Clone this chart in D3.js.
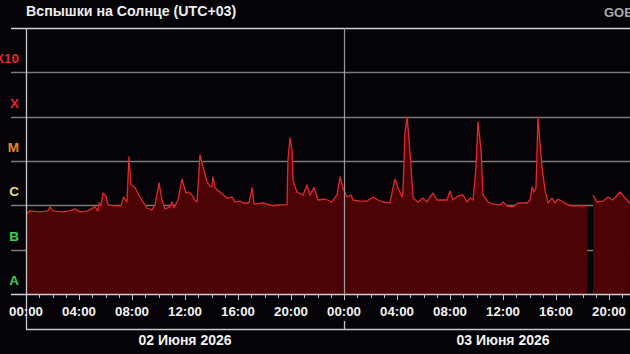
<!DOCTYPE html>
<html>
<head>
<meta charset="utf-8">
<script src="https://cdn.jsdelivr.net/npm/d3@7"></script>
<style>
  html, body { margin: 0; padding: 0; background: #050307; overflow: hidden; }
  svg { display: block; }
  text { font-family: "Liberation Sans", Arial, sans-serif; font-weight: bold; }
</style>
</head>
<body>
<div id="chart"></div>
<script>
var width = 630, height = 354;

// hours since 02 June 00:00 (UTC+03) and GOES X-ray flux, W/m^2 (null = no data)
var hours = [0, 0.30, 1.06, 1.66, 1.81, 2.04, 2.72, 3.32, 3.70, 4.08, 4.68, 5.21, 5.43, 5.51, 5.66, 5.81, 6.04, 6.19, 6.72, 7.17,
  7.36, 7.62, 7.77, 7.92, 8.23, 8.60, 9.13, 9.51, 9.74, 10.04, 10.26, 10.49, 10.87, 11.02, 11.17, 11.47, 11.77, 12.08, 12.23, 12.53,
  12.75, 12.91, 13.13, 13.36, 13.66, 13.89, 14.04, 14.11, 14.26, 14.64, 15.17, 15.55, 15.77, 16.15, 16.38, 16.83, 17.06, 17.21, 17.89, 18.64,
  19.17, 19.70, 19.77, 19.92, 20.08, 20.15, 20.45, 20.91, 21.21, 21.43, 21.74, 22.04, 22.57, 23.09, 23.47, 23.70, 23.92, 24.23, 24.53, 24.68,
  25.21, 25.74, 26.19, 26.57, 26.94, 27.47, 27.70, 27.85, 28.08, 28.38, 28.45, 28.60, 28.75, 28.83, 29.06, 29.21, 29.58, 29.96, 30.26, 30.72,
  31.02, 31.47, 31.77, 32.00, 32.23, 32.60, 32.98, 33.28, 33.51, 33.74, 33.96, 34.11, 34.34, 34.49, 34.87, 35.25, 35.77, 36.00, 36.30, 36.75,
  37.13, 37.81, 38.04, 38.19, 38.34, 38.49, 38.64, 38.79, 38.94, 39.17, 39.40, 39.70, 39.92, 40.15, 40.53, 41.06, 41.58, 42.34, 42.50, 42.79,
  43.09, 43.55, 43.92, 44.30, 44.83, 45.21, 45.58];
var flux = [6.4e-7, 7.5e-7, 7.1e-7, 7.5e-7, 9.2e-7, 7.5e-7, 7.1e-7, 7.5e-7, 8.3e-7, 7.1e-7, 7.5e-7, 9.2e-7, 7.5e-7, 1.13e-6, 9.7e-7, 1.9e-6, 1.62e-6, 1.02e-6, 9.7e-7, 9.7e-7,
  1.54e-6, 1.19e-6, 1.23e-5, 2.9e-6, 2.5e-6, 1.54e-6, 8.7e-7, 7.9e-7, 1.02e-6, 3.2e-6, 1.32e-6, 8.3e-7, 9.2e-7, 1.19e-6, 8.7e-7, 1.32e-6, 3.9e-6, 1.9e-6, 2.0e-6, 1.71e-6,
  1.32e-6, 1.19e-6, 1.37e-5, 7.3e-6, 3.4e-6, 2.7e-6, 2.6e-6, 4.4e-6, 2.5e-6, 2.0e-6, 1.46e-6, 1.54e-6, 1.19e-6, 1.25e-6, 1.13e-6, 1.13e-6, 2.5e-6, 1.07e-6, 1.13e-6, 9.7e-7,
  1.02e-6, 1.02e-6, 1.05e-5, 3.3e-5, 1.77e-5, 3.7e-6, 2.0e-6, 1.71e-6, 2.9e-6, 1.71e-6, 2.5e-6, 1.32e-6, 1.39e-6, 1.19e-6, 1.71e-6, 4.4e-6, 2.5e-6, 1.54e-6, 1.71e-6, 1.32e-6,
  1.25e-6, 1.25e-6, 1.54e-6, 1.32e-6, 1.19e-6, 1.13e-6, 2.5e-6, 3.9e-6, 2.5e-6, 1.54e-6, 2.0e-6, 4.3e-5, 9.8e-5, 5.9e-5, 7.3e-6, 1.46e-6, 1.19e-6, 1.46e-6, 1.19e-6, 1.9e-6,
  1.32e-6, 1.32e-6, 1.32e-6, 2.1e-6, 1.32e-6, 1.62e-6, 1.71e-6, 1.19e-6, 1.46e-6, 1.32e-6, 7.3e-6, 7.6e-5, 1.77e-5, 1.71e-6, 1.19e-6, 1.07e-6, 1.02e-6, 1.19e-6, 9.7e-7, 9.2e-7,
  1.13e-6, 1.13e-6, 1.32e-6, 2.6e-6, 2.0e-6, 2.5e-6, 9.8e-5, 2.55e-5, 7.3e-6, 2.2e-6, 1.13e-6, 1.46e-6, 1.13e-6, 1.39e-6, 1.19e-6, 9.7e-7, 9.7e-7, 9.7e-7, null, 1.71e-6,
  1.19e-6, 1.25e-6, 1.54e-6, 1.32e-6, 2.0e-6, 1.46e-6, 1.13e-6];

var classNames = ["A", "B", "C", "M", "X", "X10"];
var classLower = [1e-8, 1e-7, 1e-6, 1e-5, 1e-4, 1e-3];
var classColors = ["#3fd24a", "#3fd24a", "#e6e36a", "#e48a2c", "#e3262b", "#e3262b"];

var days = ["02 Июня 2026", "03 Июня 2026"];
var startTime = new Date(2026, 5, 2, 0, 0);
var endTime = new Date(2026, 5, 3, 21, 35);

var plot = {left: 26, right: 630, top: 28, bottom: 294};

var x = d3.scaleTime().domain([startTime, endTime]).range([plot.left, plot.right]);
var y = d3.scaleLog().domain([1e-8, 1e-2]).range([plot.bottom, plot.top]);

var data = hours.map(function(h, i){
  return {t: new Date(startTime.getTime() + h * 3600000), f: flux[i]};
});

var svg = d3.select("#chart").append("svg")
  .attr("width", width)
  .attr("height", height);

// title
svg.append("text")
  .attr("x", 26).attr("y", 16)
  .attr("font-size", 14.2)
  .attr("fill", "#eeeeee")
  .text("Вспышки на Солнце (UTC+03)");
svg.append("text")
  .attr("x", 604).attr("y", 17)
  .attr("font-size", 13)
  .attr("fill", "#a9a9a9")
  .text("GOES");

// class grid lines
svg.append("g").selectAll("line")
  .data(classLower.slice(1))
  .enter().append("line")
  .attr("x1", 11).attr("x2", plot.right)
  .attr("y1", function(d){ return Math.round(y(d)) + 0.5; })
  .attr("y2", function(d){ return Math.round(y(d)) + 0.5; })
  .attr("stroke", "#7a7a7a")
  .attr("stroke-width", 1.3);

svg.append("line")
  .attr("x1", 11).attr("x2", plot.right)
  .attr("y1", plot.top + 0.5).attr("y2", plot.top + 0.5)
  .attr("stroke", "#d0d0d0").attr("stroke-width", 1.3);

// class labels
svg.append("g").selectAll("text")
  .data(classNames)
  .enter().append("text")
  .attr("x", 19)
  .attr("y", function(d, i){ return y(classLower[i]) - 9; })
  .attr("text-anchor", "end")
  .attr("font-size", 13.5)
  .attr("fill", function(d, i){ return classColors[i]; })
  .text(function(d){ return d; });

// flux area + line
var area = d3.area()
  .defined(function(d){ return d.f != null; })
  .x(function(d){ return x(d.t); })
  .y0(plot.bottom)
  .y1(function(d){ return y(d.f); });

var line = d3.line()
  .defined(function(d){ return d.f != null; })
  .x(function(d){ return x(d.t); })
  .y(function(d){ return y(d.f); });

svg.append("path")
  .datum(data)
  .attr("d", area)
  .attr("fill", "#4c0306");

svg.append("path")
  .datum(data)
  .attr("d", line)
  .attr("fill", "none")
  .attr("stroke", "#dc2a30")
  .attr("stroke-width", 1.3)
  .attr("stroke-linejoin", "round");

// midnight separator
var midnight = new Date(2026, 5, 3, 0, 0);
svg.append("line")
  .attr("x1", Math.round(x(midnight)) + 0.5).attr("x2", Math.round(x(midnight)) + 0.5)
  .attr("y1", plot.top).attr("y2", plot.bottom)
  .attr("stroke", "#9a9a9a").attr("stroke-width", 1.2);

// x axis
svg.append("line")
  .attr("x1", 11).attr("x2", plot.right)
  .attr("y1", plot.bottom + 0.5).attr("y2", plot.bottom + 0.5)
  .attr("stroke", "#d0d0d0").attr("stroke-width", 1.3);

svg.append("line")
  .attr("x1", plot.left + 0.5).attr("x2", plot.left + 0.5)
  .attr("y1", plot.top).attr("y2", 329)
  .attr("stroke", "#c8c8c8").attr("stroke-width", 1.3);

var hourTicks = x.ticks(d3.timeHour.every(1));
svg.append("g").selectAll("line")
  .data(hourTicks)
  .enter().append("line")
  .attr("x1", function(d){ return Math.round(x(d)) + 0.5; })
  .attr("x2", function(d){ return Math.round(x(d)) + 0.5; })
  .attr("y1", plot.bottom)
  .attr("y2", function(d){ return d.getHours() % 4 == 0 ? plot.bottom + 6 : plot.bottom + 4; })
  .attr("stroke", "#c8c8c8");

var fmt = d3.timeFormat("%H:%M");
svg.append("g").selectAll("text")
  .data(x.ticks(d3.timeHour.every(4)))
  .enter().append("text")
  .attr("x", function(d){ return x(d); })
  .attr("y", 316)
  .attr("text-anchor", "middle")
  .attr("font-size", 13.3)
  .attr("fill", "#f2f2f2")
  .text(function(d){ return fmt(d); });

// day bracket
svg.append("line")
  .attr("x1", plot.left).attr("x2", plot.right)
  .attr("y1", 329.5).attr("y2", 329.5)
  .attr("stroke", "#c8c8c8").attr("stroke-width", 1.3);
svg.append("line")
  .attr("x1", Math.round(x(midnight)) + 0.5).attr("x2", Math.round(x(midnight)) + 0.5)
  .attr("y1", 321).attr("y2", 329)
  .attr("stroke", "#c8c8c8").attr("stroke-width", 1.3);

svg.append("g").selectAll("text")
  .data(days)
  .enter().append("text")
  .attr("x", function(d, i){
    var d0 = d3.timeDay.offset(startTime, i), d1 = d3.timeDay.offset(startTime, i + 1);
    return (x(d0) + x(d1)) / 2;
  })
  .attr("y", 344.5)
  .attr("text-anchor", "middle")
  .attr("font-size", 14)
  .attr("fill", "#f2f2f2")
  .text(function(d){ return d; });
</script>
</body>
</html>
